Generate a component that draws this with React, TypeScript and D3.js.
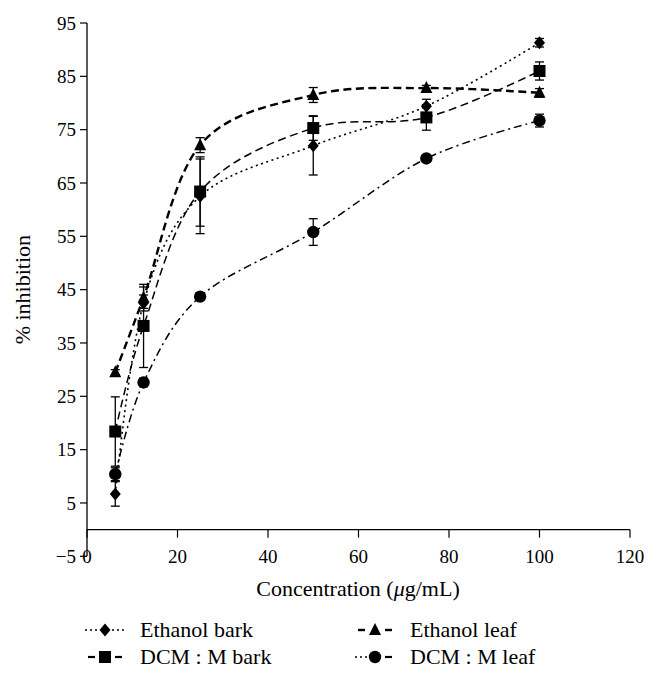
import React from "react";
import * as d3 from "d3";

const concentrations = [6.25, 12.5, 25, 50, 75, 100];
const ethanolBark = [6.7, 42.5, 62.5, 72.0, 79.4, 91.3];
const ethanolBarkErr = [2.3, 1.5, 7.0, 5.5, 1.3, 0.8];
const ethanolLeaf = [29.5, 43.5, 72.1, 81.5, 82.8, 81.9];
const ethanolLeafErr = [0.5, 2.0, 1.4, 1.4, 0.5, 0.8];
const dcmBark = [18.4, 38.2, 63.4, 75.3, 77.3, 86.0];
const dcmBarkErr = [6.5, 7.8, 6.5, 2.3, 2.4, 1.7];
const dcmLeaf = [10.4, 27.6, 43.7, 55.8, 69.6, 76.7];
const dcmLeafErr = [1.2, 0.8, 0.6, 2.5, 0.7, 1.2];

const xTicks = [0, 20, 40, 60, 80, 100, 120];
const yTicks = [-5, 5, 15, 25, 35, 45, 55, 65, 75, 85, 95];

const seriesNames = ["Ethanol bark", "Ethanol leaf", "DCM : M bark", "DCM : M leaf"];

const FONT = "'Liberation Serif', 'Times New Roman', serif";

type Series = {
  name: string;
  values: number[];
  errs: number[];
  marker: "diamond" | "triangle" | "square" | "circle";
  dash: string;
  width: number;
  legLeft: string;
  legRight: string;
};

const series: Series[] = [
  { name: seriesNames[0], values: ethanolBark, errs: ethanolBarkErr, marker: "diamond", dash: "2,3.5", width: 1.6, legLeft: "dot", legRight: "dot" },
  { name: seriesNames[1], values: ethanolLeaf, errs: ethanolLeafErr, marker: "triangle", dash: "8,4.5", width: 2.4, legLeft: "dash", legRight: "dash" },
  { name: seriesNames[2], values: dcmBark, errs: dcmBarkErr, marker: "square", dash: "8,4.5", width: 1.5, legLeft: "dash", legRight: "dash" },
  { name: seriesNames[3], values: dcmLeaf, errs: dcmLeafErr, marker: "circle", dash: "8,4,2,4", width: 1.5, legLeft: "dot", legRight: "dash" },
];

function Marker({ type, cx, cy }: { type: string; cx: number; cy: number }) {
  if (type === "circle") return <circle cx={cx} cy={cy} r={6.2} fill="#000" />;
  if (type === "square") return <rect x={cx - 6} y={cy - 6} width={12} height={12} fill="#000" />;
  if (type === "diamond")
    return <path d={`M${cx},${cy - 6.5}L${cx + 5.5},${cy}L${cx},${cy + 6.5}L${cx - 5.5},${cy}Z`} fill="#000" />;
  return <path d={`M${cx},${cy - 7}L${cx + 6},${cy + 5}L${cx - 6},${cy + 5}Z`} fill="#000" />;
}

function LegendSeg({ kind, x1, x2, y, w, side }: { kind: string; x1: number; x2: number; y: number; w: number; side: string }) {
  if (kind === "dot") {
    return <line x1={x1} x2={x2} y1={y} y2={y} stroke="#000" strokeWidth={1.6} strokeDasharray="2,3" />;
  }
  const a = side === "left" ? x1 + 3 : x1 + 3;
  const b = side === "left" ? x2 - 3 : x2 - 3;
  return <line x1={a} x2={b} y1={y} y2={y} stroke="#000" strokeWidth={Math.max(w, 2.2)} />;
}

export default function App() {
  const W = 657;
  const H = 678;
  const x = d3.scaleLinear().domain([0, 120]).range([87, 630]);
  const y = d3.scaleLinear().domain([-5, 95]).range([556.3, 23]);

  const line = d3
    .line<[number, number]>()
    .x((d) => x(d[0]))
    .y((d) => y(d[1]))
    .curve(d3.curveCatmullRom.alpha(0));

  return (
    <svg width={W} height={H} style={{ position: "absolute", left: 0, top: 0, background: "#fff" }}>
      <rect width={W} height={H} fill="#fff" />
      {/* axes */}
      <line x1={x(0)} x2={x(0)} y1={y(95)} y2={y(-5)} stroke="#000" strokeWidth={1.3} />
      <line x1={x(0)} x2={x(120)} y1={y(0)} y2={y(0)} stroke="#000" strokeWidth={1.3} />
      {yTicks.map((t) => (
        <g key={"y" + t}>
          <line x1={x(0) - 7} x2={x(0)} y1={y(t)} y2={y(t)} stroke="#000" strokeWidth={1.2} />
          <text x={x(0) - 11} y={y(t)} dy="0.35em" textAnchor="end" fontFamily={FONT} fontSize={19}>
            {t < 0 ? "\u2212" + Math.abs(t) : t}
          </text>
        </g>
      ))}
      {xTicks.map((t) => (
        <g key={"x" + t}>
          <line x1={x(t)} x2={x(t)} y1={y(0)} y2={y(0) + 8} stroke="#000" strokeWidth={1.2} />
          <text x={x(t)} y={y(-5)} dy="0.35em" textAnchor="middle" fontFamily={FONT} fontSize={19}>
            {t}
          </text>
        </g>
      ))}
      <text
        transform={`translate(30,${(y(95) + y(-5)) / 2}) rotate(-90)`}
        textAnchor="middle"
        fontFamily={FONT}
        fontSize={22}
      >
        % inhibition
      </text>
      <text x={358} y={596} textAnchor="middle" fontFamily={FONT} fontSize={22}>
        Concentration (<tspan fontStyle="italic">μ</tspan>g/mL)
      </text>

      {/* lines */}
      {series.map((s) => (
        <path
          key={"l" + s.name}
          d={line(concentrations.map((c, i) => [c, s.values[i]] as [number, number])) || ""}
          fill="none"
          stroke="#000"
          strokeWidth={s.width}
          strokeDasharray={s.dash}
        />
      ))}
      {/* error bars */}
      {series.map((s) =>
        concentrations.map((c, i) => {
          const cx = x(c);
          const y1 = y(s.values[i] + s.errs[i]);
          const y2 = y(s.values[i] - s.errs[i]);
          return (
            <g key={"e" + s.name + i} stroke="#000" strokeWidth={1.3}>
              <line x1={cx} x2={cx} y1={y1} y2={y2} />
              <line x1={cx - 4.5} x2={cx + 4.5} y1={y1} y2={y1} />
              <line x1={cx - 4.5} x2={cx + 4.5} y1={y2} y2={y2} />
            </g>
          );
        })
      )}
      {/* markers */}
      {series.map((s) =>
        concentrations.map((c, i) => (
          <Marker key={"m" + s.name + i} type={s.marker} cx={x(c)} cy={y(s.values[i])} />
        ))
      )}

      {/* legend */}
      {series.map((s, i) => {
        const col = i % 2;
        const row = Math.floor(i / 2);
        const lx = col === 0 ? 85 : 355;
        const ly = 630 + row * 27;
        return (
          <g key={"lg" + s.name}>
            <LegendSeg kind={s.legLeft} x1={lx} x2={lx + 13} y={ly} w={s.width} side="left" />
            <LegendSeg kind={s.legRight} x1={lx + 27} x2={lx + 40} y={ly} w={s.width} side="right" />
            <Marker type={s.marker} cx={lx + 20} cy={ly} />
            <text x={lx + 55} y={ly} dy="0.33em" fontFamily={FONT} fontSize={22}>
              {s.name}
            </text>
          </g>
        );
      })}
    </svg>
  );
}
